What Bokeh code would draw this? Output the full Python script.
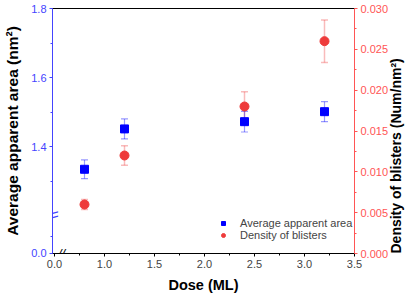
import math
from bokeh.plotting import figure
from bokeh.models import (Range1d, LinearAxis, FixedTicker, CustomJSTickFormatter,
                          PrintfTickFormatter, ColumnDataSource, Whisker, TeeHead,
                          Legend, LegendItem, Label)
from bokeh.embed import file_html
from bokeh.resources import INLINE

# ---- data ----
dose = [0.8, 1.2, 2.4, 3.2]
area = [1.334, 1.451, 1.472, 1.501]
area_err = [0.027, 0.029, 0.030, 0.029]
density = [0.0060, 0.0120, 0.0180, 0.0260]
density_err = [0.0006, 0.0012, 0.0018, 0.0026]

x_ticks = [0.5, 1.0, 1.5, 2.0, 2.5, 3.0, 3.5]
x_minor = [0.75, 1.25, 1.75, 2.25, 2.75, 3.25]
y_ticks = [1.09, 1.4, 1.6, 1.8]
y_minor = [1.14, 1.3, 1.5, 1.7]
d_ticks = [0.0, 0.005, 0.010, 0.015, 0.020, 0.025, 0.030]
d_minor = [0.0025, 0.0075, 0.0125, 0.0175, 0.0225, 0.0275]

X_START, X_END = 0.48, 3.5
Y_START, Y_END = 1.0899, 1.8
D_START, D_END = 0.0, 0.030

FONT = "Liberation Sans"
BLUE = "#0000ff"
BLUE_AX = "#4444ff"
RED = "#ee3b3b"
RED_AX = "#ff5555"

p = figure(width=415, height=295, output_backend="svg", toolbar_location=None,
           x_range=Range1d(X_START, X_END), y_range=Range1d(Y_START, Y_END),
           min_border_left=52, min_border_right=58, min_border_top=8, min_border_bottom=42)
p.extra_y_ranges = {"dens": Range1d(D_START, D_END)}
p.xgrid.visible = False
p.ygrid.visible = False
p.outline_line_color = "black"
p.background_fill_color = "white"
p.border_fill_color = "white"

# x axis
xa = p.xaxis[0]
xa.ticker = FixedTicker(ticks=x_ticks, minor_ticks=x_minor)
xa.formatter = CustomJSTickFormatter(code="return tick < 0.9 ? '0.0' : tick.toFixed(1);")
xa.axis_label = "Dose (ML)"

# left axis
ya = p.yaxis[0]
ya.ticker = FixedTicker(ticks=y_ticks, minor_ticks=y_minor)
ya.formatter = CustomJSTickFormatter(code="return tick < 1.2 ? '0.0' : tick.toFixed(1);")
ya.axis_label = "Average apparent area (nm²)"
ya.axis_line_color = BLUE_AX
ya.major_tick_line_color = BLUE_AX
ya.minor_tick_line_color = BLUE_AX
ya.major_label_text_color = BLUE_AX

# right axis
ra = LinearAxis(y_range_name="dens", axis_label="       Density of blisters  (Num/nm²)")
ra.ticker = FixedTicker(ticks=d_ticks, minor_ticks=d_minor)
ra.formatter = PrintfTickFormatter(format="%.3f")
ra.axis_line_color = RED_AX
ra.major_tick_line_color = RED_AX
ra.minor_tick_line_color = RED_AX
ra.major_label_text_color = RED_AX
p.add_layout(ra, "right")

for ax in (xa, ya, ra):
    ax.major_tick_out = 3
    ax.major_tick_in = 0
    ax.minor_tick_out = 2
    ax.minor_tick_in = 0
    ax.major_label_text_font = FONT
    ax.major_label_text_font_size = "11px"
    ax.major_label_standoff = 3
    ax.axis_label_text_font = FONT
    ax.axis_label_text_font_size = "14px"
    ax.axis_label_text_font_style = "bold"
    ax.axis_label_text_color = "black"
    ax.axis_label_standoff = 4
xa.axis_label_text_font_size = "14.5px"
xa.axis_label_standoff = 6
ya.axis_label_text_font_size = "15.5px"
ya.axis_label_standoff = 7
ra.axis_label_standoff = 5
ra.axis_label_orientation = math.pi / 2
if "axis_label_align" in ra.properties():
    ra.axis_label_align = "start"

# data sources
src_a = ColumnDataSource(dict(x=dose, y=area,
                              lo=[v - e for v, e in zip(area, area_err)],
                              hi=[v + e for v, e in zip(area, area_err)]))
src_d = ColumnDataSource(dict(x=dose, y=density,
                              lo=[v - e for v, e in zip(density, density_err)],
                              hi=[v + e for v, e in zip(density, density_err)]))

wd = Whisker(source=src_d, base="x", lower="lo", upper="hi", y_range_name="dens",
             line_color=RED, line_alpha=0.35, line_width=1.5,
             upper_head=TeeHead(size=7, line_color=RED, line_alpha=0.35, line_width=1.5),
             lower_head=TeeHead(size=7, line_color=RED, line_alpha=0.35, line_width=1.5))
wa = Whisker(source=src_a, base="x", lower="lo", upper="hi",
             line_color=BLUE, line_alpha=0.4, line_width=1.2,
             upper_head=TeeHead(size=7, line_color=BLUE, line_alpha=0.4, line_width=1.2),
             lower_head=TeeHead(size=7, line_color=BLUE, line_alpha=0.4, line_width=1.2))
p.add_layout(wd)
p.add_layout(wa)

rc = p.scatter("x", "y", source=src_d, y_range_name="dens", marker="circle", size=9,
               fill_color=RED, line_color=RED)
rs = p.scatter("x", "y", source=src_a, marker="square", size=8,
               fill_color=BLUE, line_color=BLUE)

legend = Legend(items=[LegendItem(label="Average apparent area", renderers=[rs]),
                       LegendItem(label="Density of blisters", renderers=[rc])],
                location=(166, 12), orientation="vertical")
legend.border_line_color = None
legend.background_fill_alpha = 0
legend.label_text_font = FONT
legend.label_text_font_size = "11px"
legend.glyph_width = 10
legend.glyph_height = 12
legend.label_height = 12
legend.label_standoff = 12
legend.spacing = 0
legend.padding = 0
legend.margin = 0
p.add_layout(legend)

# axis break marks
p.add_layout(Label(x=X_START, y=1.2, text="\\\\", angle=math.pi / 2,
                   text_align="center", text_baseline="middle",
                   text_color=BLUE_AX, text_font=FONT, text_font_size="15px"))
p.add_layout(Label(x=0.57, y=Y_START, text="//",
                   text_align="center", text_baseline="middle",
                   text_color="black", text_font=FONT, text_font_size="13px",
                   text_font_style="italic"))

open("out.html", "w").write(file_html(p, INLINE))
